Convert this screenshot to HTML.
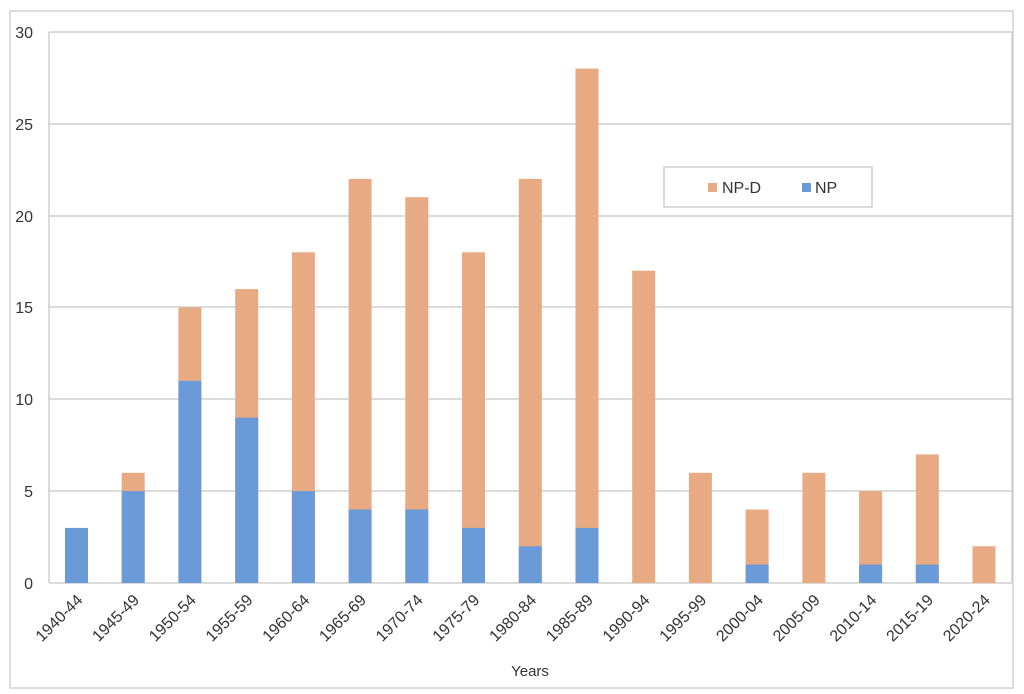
<!DOCTYPE html>
<html><head><meta charset="utf-8"><style>
html,body{margin:0;padding:0;background:#fff;}
svg{display:block;font-family:"Liberation Sans",sans-serif;}
</style></head><body>
<svg width="1024" height="694" viewBox="0 0 1024 694" xmlns="http://www.w3.org/2000/svg">
<rect x="10" y="11" width="1003" height="677" fill="#fff" stroke="#d0d0d0" stroke-width="1.5"/>
<g stroke="#cfcfcf" stroke-width="1.5">
<line x1="49" y1="32" x2="1012" y2="32"/>
<line x1="49" y1="124" x2="1012" y2="124"/>
<line x1="49" y1="216" x2="1012" y2="216"/>
<line x1="49" y1="307" x2="1012" y2="307"/>
<line x1="49" y1="399" x2="1012" y2="399"/>
<line x1="49" y1="491" x2="1012" y2="491"/>
<line x1="49" y1="583" x2="1012" y2="583"/>
<line x1="49" y1="32" x2="49" y2="583"/>
<line x1="1012" y1="32" x2="1012" y2="583"/>
</g>
<g font-size="16" fill="#333" text-anchor="end">
<text x="33" y="38">30</text><text x="33" y="130">25</text><text x="33" y="222">20</text>
<text x="33" y="313">15</text><text x="33" y="405">10</text><text x="33" y="497">5</text><text x="33" y="589">0</text>
</g>
<g fill="#E8AA83">
<rect x="121.7" y="472.8" width="23" height="110.2"/>
<rect x="178.4" y="307.4" width="23" height="275.6"/>
<rect x="235.2" y="289.1" width="23" height="293.9"/>
<rect x="291.9" y="252.3" width="23" height="330.7"/>
<rect x="348.6" y="178.9" width="23" height="404.1"/>
<rect x="405.3" y="197.2" width="23" height="385.8"/>
<rect x="462.0" y="252.3" width="23" height="330.7"/>
<rect x="518.8" y="178.9" width="23" height="404.1"/>
<rect x="575.5" y="68.6" width="23" height="514.4"/>
<rect x="632.2" y="270.7" width="23" height="312.3"/>
<rect x="688.9" y="472.8" width="23" height="110.2"/>
<rect x="745.6" y="509.5" width="23" height="73.5"/>
<rect x="802.4" y="472.8" width="23" height="110.2"/>
<rect x="859.1" y="491.1" width="23" height="91.9"/>
<rect x="915.8" y="454.4" width="23" height="128.6"/>
<rect x="972.5" y="546.3" width="23" height="36.7"/>
</g>
<g fill="#6A9BD8">
<rect x="65" y="527.9" width="23" height="55.1"/>
<rect x="121.7" y="491.1" width="23" height="91.9"/>
<rect x="178.4" y="380.9" width="23" height="202.1"/>
<rect x="235.2" y="417.7" width="23" height="165.3"/>
<rect x="291.9" y="491.1" width="23" height="91.9"/>
<rect x="348.6" y="509.5" width="23" height="73.5"/>
<rect x="405.3" y="509.5" width="23" height="73.5"/>
<rect x="462.0" y="527.9" width="23" height="55.1"/>
<rect x="518.8" y="546.3" width="23" height="36.7"/>
<rect x="575.5" y="527.9" width="23" height="55.1"/>
<rect x="745.6" y="564.6" width="23" height="18.4"/>
<rect x="859.1" y="564.6" width="23" height="18.4"/>
<rect x="915.8" y="564.6" width="23" height="18.4"/>
</g>
<g font-size="16" fill="#333" text-anchor="end">
<text x="83.5" y="601" transform="rotate(-45 83.5 601)">1940-44</text>
<text x="140.2" y="601" transform="rotate(-45 140.2 601)">1945-49</text>
<text x="196.9" y="601" transform="rotate(-45 196.9 601)">1950-54</text>
<text x="253.7" y="601" transform="rotate(-45 253.7 601)">1955-59</text>
<text x="310.4" y="601" transform="rotate(-45 310.4 601)">1960-64</text>
<text x="367.1" y="601" transform="rotate(-45 367.1 601)">1965-69</text>
<text x="423.8" y="601" transform="rotate(-45 423.8 601)">1970-74</text>
<text x="480.5" y="601" transform="rotate(-45 480.5 601)">1975-79</text>
<text x="537.3" y="601" transform="rotate(-45 537.3 601)">1980-84</text>
<text x="594.0" y="601" transform="rotate(-45 594.0 601)">1985-89</text>
<text x="650.7" y="601" transform="rotate(-45 650.7 601)">1990-94</text>
<text x="707.4" y="601" transform="rotate(-45 707.4 601)">1995-99</text>
<text x="764.1" y="601" transform="rotate(-45 764.1 601)">2000-04</text>
<text x="820.9" y="601" transform="rotate(-45 820.9 601)">2005-09</text>
<text x="877.6" y="601" transform="rotate(-45 877.6 601)">2010-14</text>
<text x="934.3" y="601" transform="rotate(-45 934.3 601)">2015-19</text>
<text x="991.0" y="601" transform="rotate(-45 991.0 601)">2020-24</text>
</g>
<rect x="664" y="167" width="208" height="40" fill="#fff" stroke="#cfcfcf" stroke-width="1.5"/>
<rect x="708" y="183" width="9" height="9" fill="#E8AA83"/>
<text x="722" y="193" font-size="16" fill="#333">NP-D</text>
<rect x="802" y="183" width="9" height="9" fill="#6A9BD8"/>
<text x="815" y="193" font-size="16" fill="#333">NP</text>
<text x="530" y="676" font-size="15" fill="#333" text-anchor="middle">Years</text>
</svg>
</body></html>
